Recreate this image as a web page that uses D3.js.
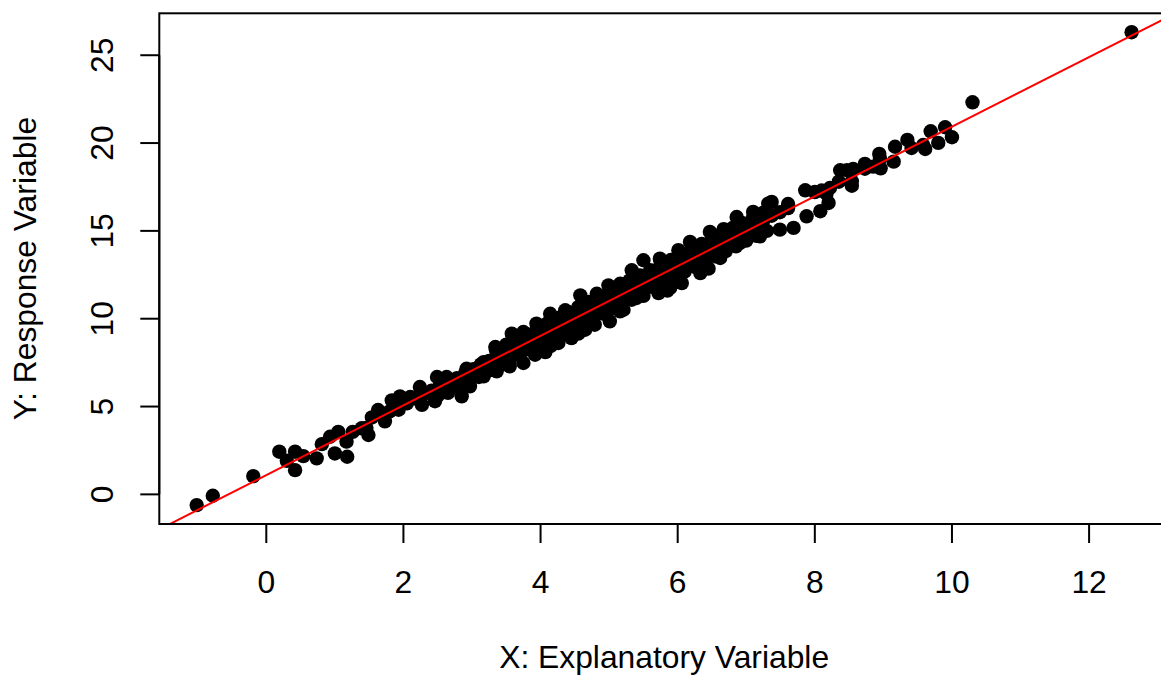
<!DOCTYPE html>
<html>
<head>
<meta charset="utf-8">
<script src="https://cdn.jsdelivr.net/npm/d3@7"></script>
<style>
  body { margin: 0; background: #fff; }
  text { font-family: "Liberation Sans", Arial, sans-serif; font-size: 31.8px; fill: #000; }
</style>
</head>
<body>
<div id="chart"></div>
<script>
// scatter values, [x, y]
var tailLow = [
  [-1.015,-0.61],[-0.78,-0.08],[-0.19,1.04],[0.19,2.43],[0.42,2.43],[0.30,1.91],[0.42,1.38],
  [0.54,2.18],[0.735,2.05],[0.81,2.86],[0.93,3.28],[1.05,3.56],[1.00,2.33],[1.18,2.14],
  [1.17,3.00],[1.26,3.56],[1.39,3.76],[1.49,3.38],[1.54,4.38],[1.63,4.80],[1.46,3.78]
];
var bandUpper = [
  [1.66,4.59],[1.83,5.35],[1.95,5.58],[2.10,5.54],[2.24,6.11],[2.49,6.68],[2.63,6.68],
  [2.92,7.15],[3.17,7.53],[3.34,8.39],[3.58,9.15],[3.75,9.24],[3.94,9.72],[4.14,10.28],
  [4.36,10.48],[4.58,11.33],[4.82,11.42],[4.99,11.90],[5.16,11.99],[5.33,12.76],[5.50,13.33],
  [5.74,13.42],[6.01,13.90],[6.18,14.37],[6.47,14.94],[6.67,15.10],[6.86,15.79],[7.10,16.08],
  [7.32,16.55],[7.37,16.65],[7.61,16.53],[7.86,17.31],[8.00,17.21],[8.17,17.12],[8.37,18.45],
  [8.47,18.45],[8.73,18.54],[8.95,19.11]
];
var bandLower = [
  [1.73,4.16],[1.93,4.82],[2.27,5.10],[2.46,5.30],[2.68,6.05],[2.85,5.58],[2.97,6.15],
  [3.17,6.72],[3.36,7.00],[3.55,7.29],[3.75,7.48],[3.92,7.95],[4.07,8.10],[4.26,8.62],
  [4.45,8.90],[4.65,9.37],[4.79,9.66],[5.01,9.85],[5.16,10.42],[5.21,10.51],[5.33,11.08],
  [5.40,11.18],[5.50,11.30],[5.72,11.46],[5.89,11.76],[6.06,12.03],[6.33,12.60],[6.62,13.46],
  [6.91,14.31],[7.20,14.69],[7.49,15.07],[7.69,15.17],[7.88,15.83],[8.08,16.12],[8.20,16.59],
  [8.54,17.82],[4.15,8.45],[4.55,9.15],[5.85,11.60],[6.45,12.85]
];
var bandCore = [
  [1.80,4.72],[1.92,4.98],[2.05,5.18],[2.17,5.46],[2.30,5.72],[2.41,5.90],[2.53,6.18],
  [2.66,6.40],[2.78,6.62],[2.90,6.90],[3.02,7.12],[3.13,7.40],[3.25,7.60],[3.38,7.84],
  [3.50,8.12],[3.61,8.30],[3.73,8.60],[3.85,8.80],[3.97,9.04],[4.08,9.30],[4.20,9.50],
  [4.32,9.76],[4.44,9.96],[4.55,10.22],[4.67,10.44],[4.79,10.66],[4.90,10.92],[5.02,11.12],
  [5.14,11.40],[5.26,11.60],[5.37,11.86],[5.49,12.08],[5.61,12.30],[5.73,12.56],[5.84,12.80],
  [5.96,13.00],[6.08,13.26],[6.20,13.50],[6.31,13.70],[6.43,13.98],[6.55,14.20],[6.67,14.42],
  [6.78,14.68],[6.90,14.90],[7.02,15.12],[7.14,15.40],[7.25,15.60],[7.37,15.86],[7.49,16.06],
  [7.61,16.30],[8.10,17.30],[8.22,17.44],[8.35,17.80],
  [3.35,8.20],[3.50,8.52],[3.65,8.78],[3.80,9.12],[3.95,9.45],[4.10,9.74],[4.25,10.05],
  [4.40,10.38],[4.55,10.66],[4.70,10.95],[4.85,11.28],[5.00,11.55],[5.15,11.84],[5.30,12.18],
  [5.45,12.46],[5.60,12.76],[5.75,13.08],[5.90,13.34],[6.05,13.66],[6.20,13.95],[6.35,14.26],
  [6.50,14.54],[6.65,14.86],[6.80,15.16],[6.95,15.44],[7.10,15.76],[7.25,16.04],
  [2.50,5.62],[2.65,5.78],[2.80,6.10],[2.95,6.38],[3.10,6.68],[3.25,7.05],[3.40,7.35],
  [3.55,7.62],[3.70,7.95],[3.85,8.22],[4.00,8.55],[4.15,8.82],[4.30,9.12],[4.45,9.40],
  [4.60,9.70],[4.75,10.02],[4.90,10.30],[5.05,10.58],[5.20,10.90],[5.35,11.15],[5.50,11.50],
  [5.65,11.78],[5.80,12.10],[5.95,12.35],[6.10,12.68],[6.25,12.95],[6.40,13.28],[6.55,13.55],
  [6.70,13.85],[6.85,14.12],[7.00,14.45],[7.15,14.72],[7.30,15.00]
];
var tailHigh = [
  [8.54,17.57],[8.56,18.52],[8.73,18.81],[8.85,18.66],[8.96,18.56],[8.94,19.38],[9.15,18.94],
  [9.17,19.79],[9.35,20.18],[9.41,19.72],[9.58,19.89],[9.61,19.66],[9.69,20.67],[9.80,20.01],
  [9.90,20.90],[10.00,20.33],[10.30,22.32],[12.62,26.31]
];

// fitted line (lm)
var fitIntercept = 1.10,
  fitSlope = 1.983;

var xTicks = [0, 2, 4, 6, 8, 10, 12];
var yTicks = [0, 5, 10, 15, 20, 25];
var xTitle = "X: Explanatory Variable",
  yTitle = "Y: Response Variable";

var
  width = 1161,
  height = 675,
  plotLeft = 159.3,
  plotRight = 1169,
  plotTop = 13.3,
  plotBottom = 524,
  tickLen = 19;

var points = tailLow.concat(bandUpper, bandLower, bandCore, tailHigh);

// R style 4% padding around the data range
function padded(ext) {
  var d = (ext[1] - ext[0]) * 0.04;
  return [ext[0] - d, ext[1] + d];
}

var x = d3.scaleLinear()
  .domain(padded(d3.extent(points, function(d) { return d[0]; })))
  .range([plotLeft, plotRight]);

var y = d3.scaleLinear()
  .domain(padded(d3.extent(points, function(d) { return d[1]; })))
  .range([plotBottom, plotTop]);

var svg = d3.select("#chart")
  .append("svg")
  .attr("width", width)
  .attr("height", height);

svg.append("rect")
  .attr("width", width)
  .attr("height", height)
  .attr("fill", "#fff");

svg.append("clipPath")
  .attr("id", "plotclip")
  .append("rect")
  .attr("x", plotLeft)
  .attr("y", plotTop)
  .attr("width", plotRight - plotLeft)
  .attr("height", plotBottom - plotTop);

svg.append("g")
  .selectAll("circle")
  .data(points)
  .enter().append("circle")
  .attr("cx", function(d) { return x(d[0]); })
  .attr("cy", function(d) { return y(d[1]); })
  .attr("r", 7.2)
  .attr("fill", "#000");

var xd = x.domain();
svg.append("line")
  .attr("clip-path", "url(#plotclip)")
  .attr("x1", x(xd[0]))
  .attr("y1", y(fitIntercept + fitSlope * xd[0]))
  .attr("x2", x(xd[1]))
  .attr("y2", y(fitIntercept + fitSlope * xd[1]))
  .attr("stroke", "#ff0000")
  .attr("stroke-width", 2);

// box
svg.append("rect")
  .attr("x", plotLeft)
  .attr("y", plotTop)
  .attr("width", plotRight - plotLeft)
  .attr("height", plotBottom - plotTop)
  .attr("fill", "none")
  .attr("stroke", "#000")
  .attr("stroke-width", 2);

// x axis
var gx = svg.append("g");
gx.append("line")
  .attr("x1", x(xTicks[0])).attr("x2", x(xTicks[xTicks.length - 1]))
  .attr("y1", plotBottom).attr("y2", plotBottom)
  .attr("stroke", "#000").attr("stroke-width", 2);
gx.selectAll(".xt")
  .data(xTicks)
  .enter().append("line")
  .attr("x1", function(d) { return x(d); })
  .attr("x2", function(d) { return x(d); })
  .attr("y1", plotBottom).attr("y2", plotBottom + tickLen)
  .attr("stroke", "#000").attr("stroke-width", 2);
gx.selectAll("text")
  .data(xTicks)
  .enter().append("text")
  .attr("x", function(d) { return x(d); })
  .attr("y", 593)
  .attr("text-anchor", "middle")
  .text(function(d) { return d; });

// y axis
var gy = svg.append("g");
gy.append("line")
  .attr("x1", plotLeft).attr("x2", plotLeft)
  .attr("y1", y(yTicks[0])).attr("y2", y(yTicks[yTicks.length - 1]))
  .attr("stroke", "#000").attr("stroke-width", 2);
gy.selectAll(".yt")
  .data(yTicks)
  .enter().append("line")
  .attr("x1", plotLeft).attr("x2", plotLeft - tickLen)
  .attr("y1", function(d) { return y(d); })
  .attr("y2", function(d) { return y(d); })
  .attr("stroke", "#000").attr("stroke-width", 2);
gy.selectAll("text")
  .data(yTicks)
  .enter().append("text")
  .attr("transform", function(d) { return "translate(113," + y(d) + ") rotate(-90)"; })
  .attr("text-anchor", "middle")
  .text(function(d) { return d; });

// titles
svg.append("text")
  .attr("x", (plotLeft + plotRight) / 2)
  .attr("y", 668)
  .attr("text-anchor", "middle")
  .text(xTitle);

svg.append("text")
  .attr("transform", "translate(36," + (plotTop + plotBottom) / 2 + ") rotate(-90)")
  .attr("text-anchor", "middle")
  .text(yTitle);
</script>
</body>
</html>
